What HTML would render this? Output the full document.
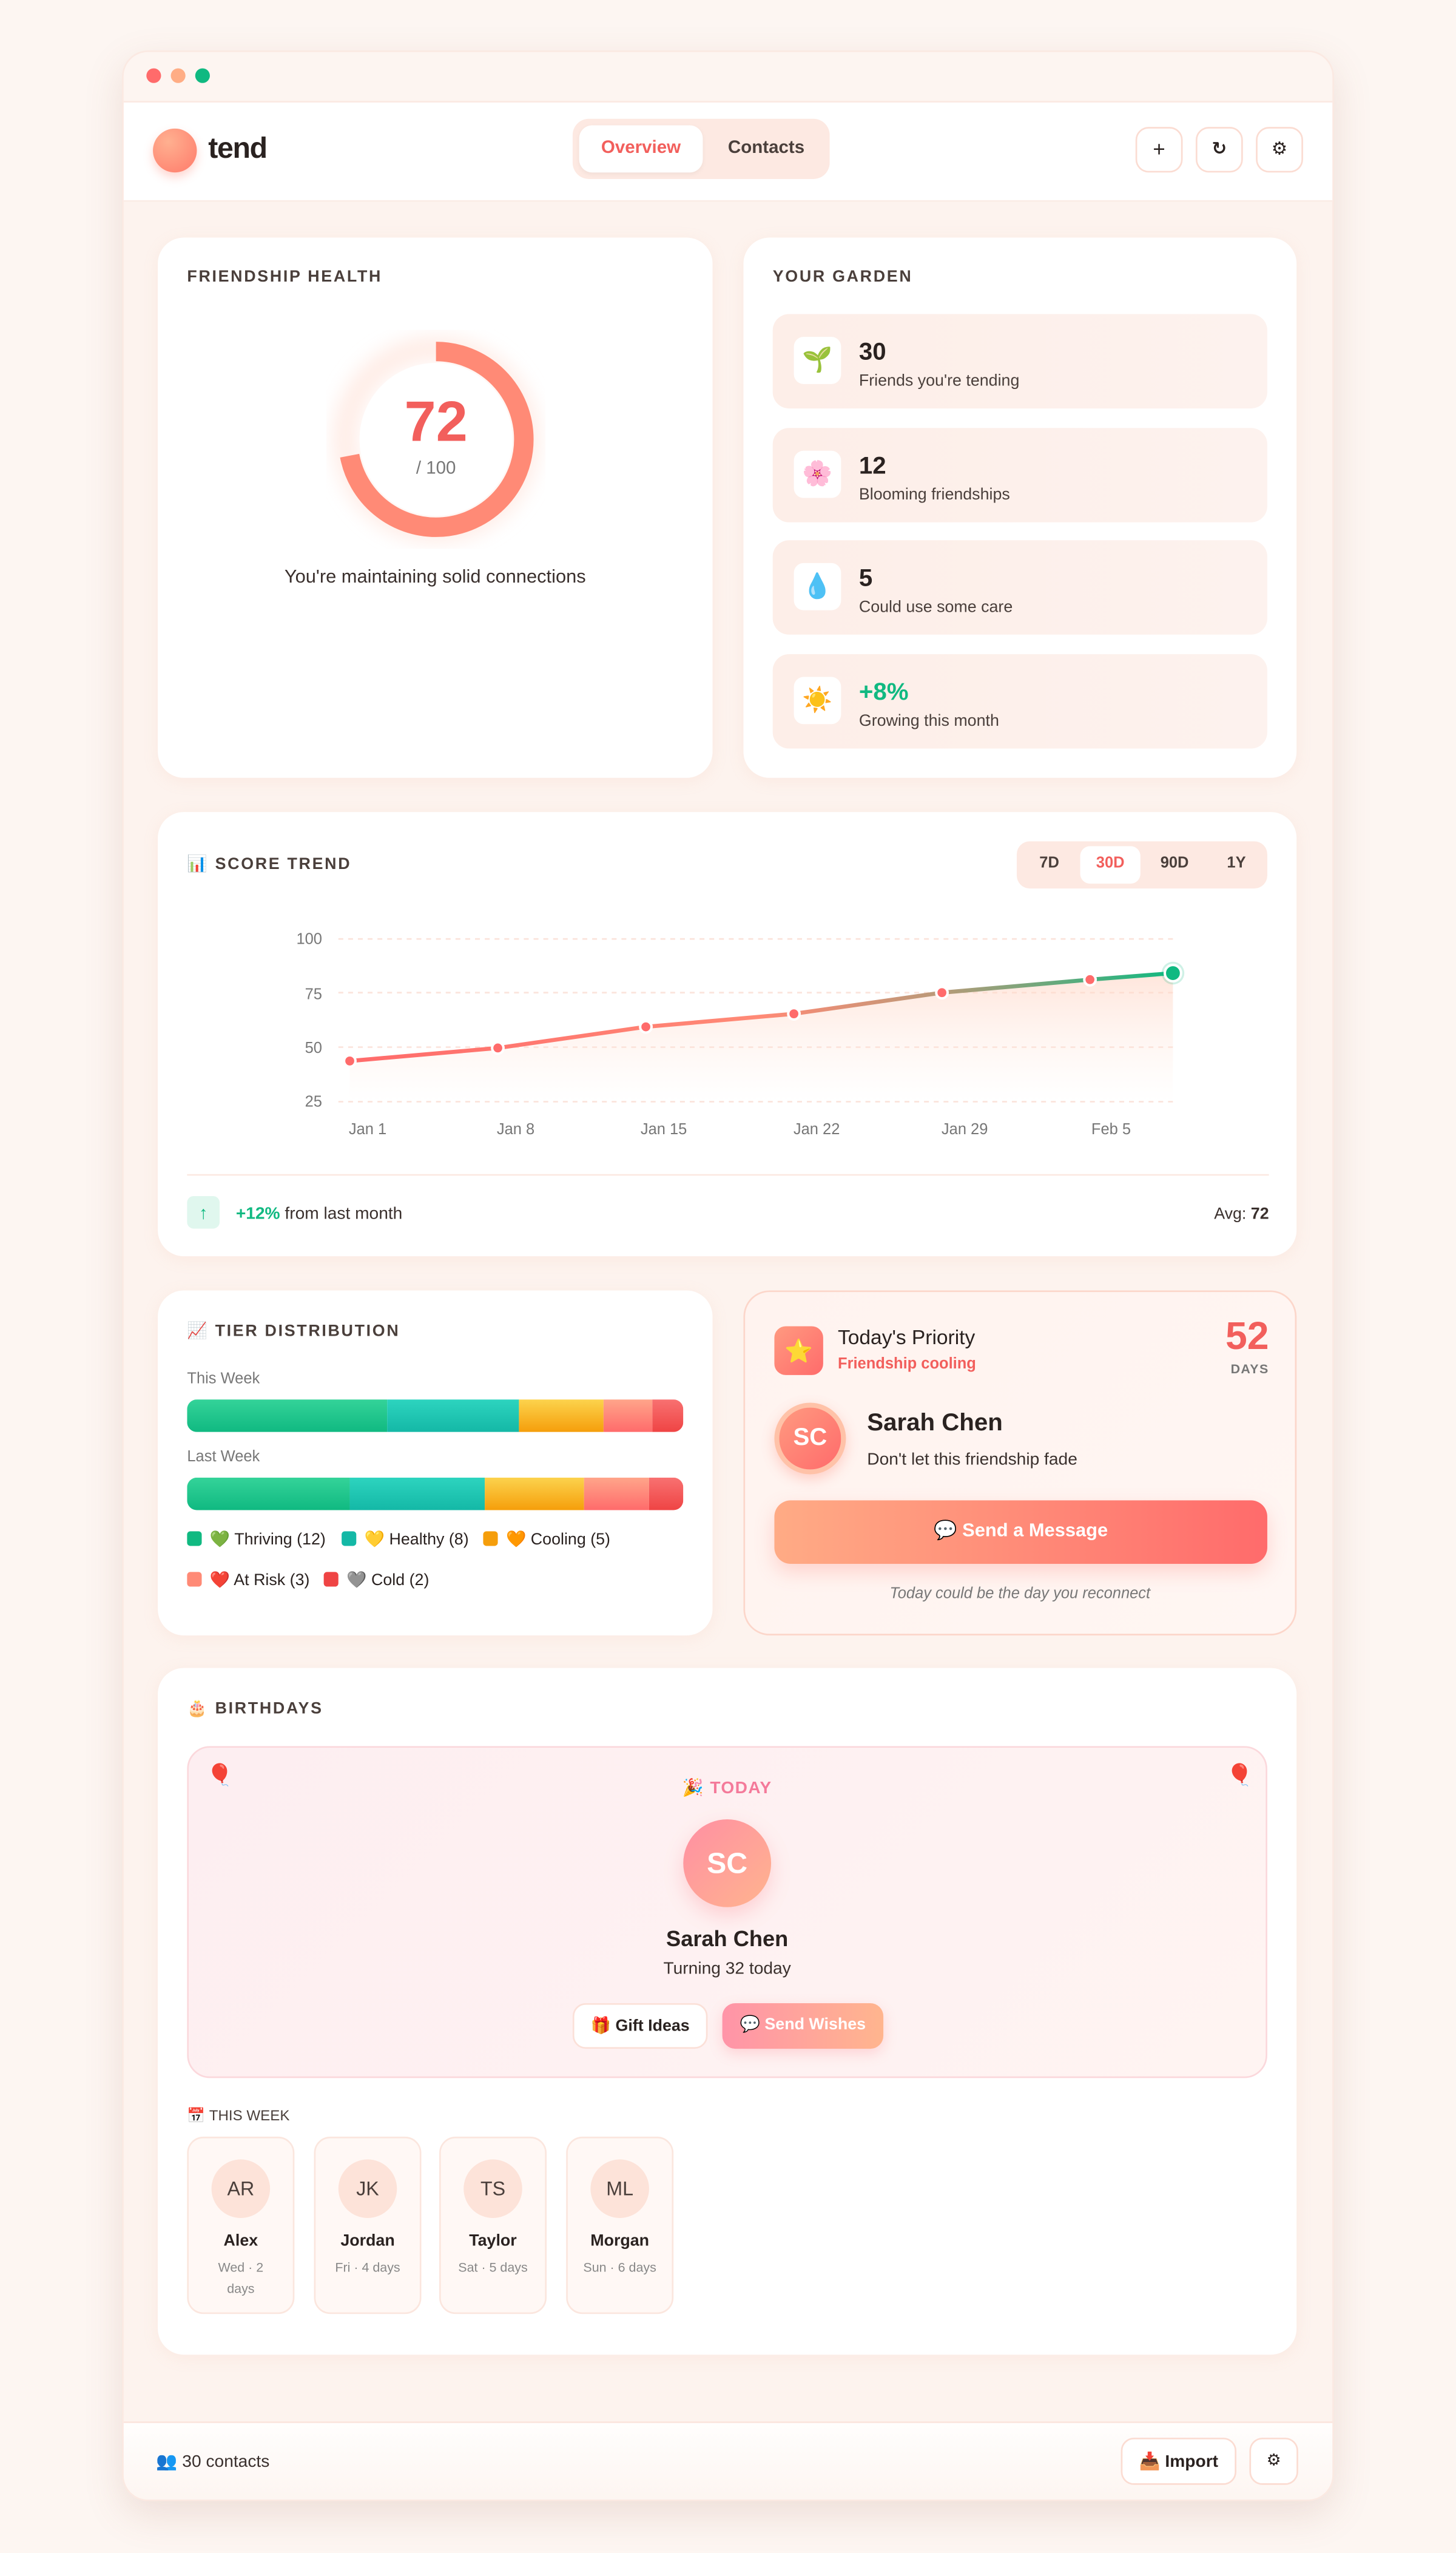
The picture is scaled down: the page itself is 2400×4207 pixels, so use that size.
<!DOCTYPE html>
<html><head><meta charset="utf-8">
<style>
*{box-sizing:border-box;margin:0;padding:0}
html,body{width:2400px;height:4206px;overflow:hidden;background:#fdf6f2}
#s{position:absolute;left:0;top:0;width:895px;height:1569px;transform:scale(2.68156);transform-origin:0 0;font-family:"Liberation Sans","DejaVu Sans",sans-serif;color:#2a2220}
.a{position:absolute}
.card{position:absolute;background:#fff;border-radius:16px;box-shadow:0 2px 10px rgba(240,160,130,.10)}
.ttl{position:absolute;font-size:10px;font-weight:bold;letter-spacing:1px;color:#4a3f3b}
.gi{position:absolute;left:475px;width:304px;height:58px;border-radius:10px;background:linear-gradient(90deg,#fdeee8,#fdf2ee)}
.gi .ic{position:absolute;left:13px;top:14px;width:29px;height:29px;background:#fff;border-radius:6px;text-align:center;line-height:29px;font-size:15px}
.gi .n{position:absolute;left:53px;top:15px;font-size:15px;font-weight:bold}
.gi .l{position:absolute;left:53px;top:36px;font-size:10px;color:#4a3f3b}
.btn{position:absolute;background:#fff;border:1px solid #fbdcd2;border-radius:8px;text-align:center;font-size:11px}
.lab{position:absolute;font-size:9.5px;color:#777}
.leg{position:absolute;font-size:10px;color:#2a2220}
.leg i{display:inline-block;width:9px;height:9px;border-radius:2px;vertical-align:-1px;margin-right:5px}
.wk{position:absolute;top:1313px;width:66px;height:109px;border:1px solid #fbe6de;border-radius:10px;background:#fff8f5;text-align:center}
.wk .av{margin:13px auto 0;width:36px;height:36px;border-radius:50%;background:#fde3d9;line-height:36px;font-size:12px;color:#4a3f3b}
.wk .nm{margin-top:9px;font-size:10px;font-weight:bold}
.wk .sb{margin-top:4px;font-size:8px;color:#888;line-height:13px}
</style></head><body><div id="s">
<div class="a" style="left:75px;top:31px;width:745px;height:1506px;border-radius:16px;background:#fdf3ee;box-shadow:0 8px 24px rgba(150,90,70,.15);overflow:hidden;border:1px solid #fbe9e2">
 <div class="a" style="left:0;top:0;width:745px;height:31px;background:#fdf5f1;border-bottom:1px solid #fbe9e2"></div>
 <div class="a" style="left:14px;top:10px;width:9px;height:9px;border-radius:50%;background:#ff6b6b"></div>
 <div class="a" style="left:29px;top:10px;width:9px;height:9px;border-radius:50%;background:#ffad85"></div>
 <div class="a" style="left:44px;top:10px;width:9px;height:9px;border-radius:50%;background:#10b981"></div>
 <div class="a" style="left:0;top:31px;width:745px;height:61px;background:#fff;border-bottom:1px solid #fbece6"></div>
 <div class="a" style="left:0;top:1456px;width:745px;height:50px;background:linear-gradient(#fffefd,#fdf5f1);border-top:1px solid #fbe6de"></div>
</div>
<div class="a" style="left:94px;top:79px;width:27px;height:27px;border-radius:50%;background:radial-gradient(circle at 35% 30%,#ffb090,#ff7a6a);box-shadow:0 3px 6px rgba(255,120,100,.3)"></div>
<div class="a" style="left:128px;top:81px;font-size:18px;font-weight:bold;letter-spacing:-.5px">tend</div>
<div class="a" style="left:352px;top:73px;width:158px;height:37px;border-radius:10px;background:#fde9e2"></div>
<div class="a" style="left:356px;top:77px;width:76px;height:29px;border-radius:8px;background:#fff;box-shadow:0 1px 3px rgba(0,0,0,.05);text-align:center;line-height:29px;font-size:11px;color:#f25f5c;font-weight:bold">Overview</div>
<div class="a" style="left:440px;top:77px;width:62px;line-height:29px;text-align:center;font-size:11px;color:#4a3f3b;font-weight:bold">Contacts</div>
<div class="btn" style="left:698px;top:78px;width:29px;height:28px;line-height:26px;font-size:13px">+</div>
<div class="btn" style="left:735px;top:78px;width:29px;height:28px;line-height:26px;font-weight:bold">↻</div>
<div class="btn" style="left:772px;top:78px;width:29px;height:28px;line-height:26px">⚙</div>

<!-- health -->
<div class="card" style="left:97px;top:146px;width:341px;height:332px"></div>
<div class="ttl" style="left:115px;top:165px">FRIENDSHIP HEALTH</div>
<svg class="a" style="left:198px;top:200px" width="140" height="140" viewBox="0 0 140 140">
 <defs><filter id="b"><feGaussianBlur stdDeviation="6"/></filter></defs>
 <circle cx="70" cy="70" r="56" fill="none" stroke="#ffe6de" stroke-width="14" filter="url(#b)" opacity=".8"/>
 <circle cx="70" cy="70" r="54" fill="none" stroke="#ff8a76" stroke-width="12" stroke-dasharray="244.3 339.3" transform="rotate(-90 70 70)"/>
 <circle cx="70" cy="70" r="47" fill="#fff"/>
</svg>
<div class="a" style="left:218px;top:240px;width:100px;text-align:center;font-size:35px;font-weight:bold;color:#f25f5c">72</div>
<div class="a" style="left:218px;top:282px;width:100px;text-align:center;font-size:11px;color:#777">/ 100</div>
<div class="a" style="left:97px;top:349px;width:341px;text-align:center;font-size:11.5px;color:#3a302d">You're maintaining solid connections</div>

<!-- garden -->
<div class="card" style="left:457px;top:146px;width:340px;height:332px"></div>
<div class="ttl" style="left:475px;top:165px">YOUR GARDEN</div>
<div class="gi" style="top:193px"><div class="ic">🌱</div><div class="n">30</div><div class="l">Friends you're tending</div></div>
<div class="gi" style="top:263px"><div class="ic">🌸</div><div class="n">12</div><div class="l">Blooming friendships</div></div>
<div class="gi" style="top:332px"><div class="ic">💧</div><div class="n">5</div><div class="l">Could use some care</div></div>
<div class="gi" style="top:402px"><div class="ic">☀️</div><div class="n" style="color:#10b981">+8%</div><div class="l">Growing this month</div></div>

<!-- trend -->
<div class="card" style="left:97px;top:499px;width:700px;height:273px"></div>
<div class="ttl" style="left:115px;top:526px">📊 SCORE TREND</div>
<div class="a" style="left:625px;top:517px;width:154px;height:29px;border-radius:8px;background:#fde9e2"></div>
<div class="a" style="left:664px;top:520px;width:37px;height:23px;border-radius:6px;background:#fff"></div>
<div class="a" style="left:625px;top:525px;width:40px;text-align:center;font-size:9.5px;font-weight:bold;color:#4a3f3b">7D</div>
<div class="a" style="left:664px;top:525px;width:37px;text-align:center;font-size:9.5px;font-weight:bold;color:#f25f5c">30D</div>
<div class="a" style="left:703px;top:525px;width:38px;text-align:center;font-size:9.5px;font-weight:bold;color:#4a3f3b">90D</div>
<div class="a" style="left:741px;top:525px;width:38px;text-align:center;font-size:9.5px;font-weight:bold;color:#4a3f3b">1Y</div>
<svg class="a" style="left:97px;top:499px" width="700" height="273" viewBox="97 499 700 273">
 <defs>
  <linearGradient id="ar" x1="0" y1="0" x2="0" y2="1"><stop offset="0" stop-color="#ffd5c4" stop-opacity=".6"/><stop offset="1" stop-color="#ffe8de" stop-opacity="0"/></linearGradient>
  <linearGradient id="ln" x1="215" y1="0" x2="721" y2="0" gradientUnits="userSpaceOnUse"><stop offset="0" stop-color="#ff6b6b"/><stop offset=".5" stop-color="#ff8a76"/><stop offset=".72" stop-color="#b89a78"/><stop offset="1" stop-color="#10b981"/></linearGradient>
 </defs>
 <g stroke="#fbe4dc" stroke-dasharray="3 3" stroke-width="1">
  <line x1="208" y1="577" x2="722" y2="577"/><line x1="208" y1="610" x2="722" y2="610"/><line x1="208" y1="643.5" x2="722" y2="643.5"/><line x1="208" y1="677" x2="722" y2="677"/>
 </g>
 <g font-size="9.5" fill="#777" text-anchor="end"><text x="198" y="580">100</text><text x="198" y="614">75</text><text x="198" y="647">50</text><text x="198" y="680">25</text></g>
 <g font-size="9.5" fill="#777" text-anchor="middle"><text x="226" y="697">Jan 1</text><text x="317" y="697">Jan 8</text><text x="408" y="697">Jan 15</text><text x="502" y="697">Jan 22</text><text x="593" y="697">Jan 29</text><text x="683" y="697">Feb 5</text></g>
 <path d="M215 652 L306 644 L397 631 L488 623 L579 610 L670 602 L721 598 L721 677 L215 677Z" fill="url(#ar)"/>
 <path d="M215 652 L306 644 L397 631 L488 623 L579 610 L670 602 L721 598" fill="none" stroke="url(#ln)" stroke-width="2.5" stroke-linejoin="round"/>
 <g fill="#ff6b6b" stroke="#fff" stroke-width="1.5"><circle cx="215" cy="652" r="3.5"/><circle cx="306" cy="644" r="3.5"/><circle cx="397" cy="631" r="3.5"/><circle cx="488" cy="623" r="3.5"/><circle cx="579" cy="610" r="3.5"/><circle cx="670" cy="602" r="3.5"/></g>
 <circle cx="721" cy="598" r="7" fill="#10b981" opacity=".2"/>
 <circle cx="721" cy="598" r="5" fill="#10b981" stroke="#fff" stroke-width="1.5"/>
 <line x1="115" y1="722" x2="780" y2="722" stroke="#fbe9e2"/>
 <rect x="115" y="735" width="20" height="20" rx="4" fill="#e0f7ee"/>
 <text x="125" y="749" font-size="11" fill="#10b981" text-anchor="middle" font-weight="bold">↑</text>
 <text x="145" y="749" font-size="10.5" fill="#3a302d"><tspan fill="#10b981" font-weight="bold">+12%</tspan> from last month</text>
 <text x="780" y="749" font-size="10" fill="#3a302d" text-anchor="end">Avg: <tspan font-weight="bold">72</tspan></text>
</svg>

<!-- tier -->
<div class="card" style="left:97px;top:793px;width:341px;height:212px"></div>
<div class="ttl" style="left:115px;top:813px">📈 TIER DISTRIBUTION</div>
<div class="lab" style="left:115px;top:842px">This Week</div>
<div class="a" style="left:115px;top:860px;width:305px;height:20px;border-radius:6px;overflow:hidden;display:flex">
 <div style="width:123px;background:linear-gradient(#34d399,#10b981)"></div><div style="width:81px;background:linear-gradient(#2dd4bf,#14b8a6)"></div><div style="width:52px;background:linear-gradient(#fcd34d,#f59e0b)"></div><div style="width:30px;background:linear-gradient(#ffa58a,#ff6b6b)"></div><div style="flex:1;background:linear-gradient(#f87171,#ef4444)"></div></div>
<div class="lab" style="left:115px;top:890px">Last Week</div>
<div class="a" style="left:115px;top:908px;width:305px;height:20px;border-radius:6px;overflow:hidden;display:flex">
 <div style="width:100px;background:linear-gradient(#34d399,#10b981)"></div><div style="width:83px;background:linear-gradient(#2dd4bf,#14b8a6)"></div><div style="width:61px;background:linear-gradient(#fcd34d,#f59e0b)"></div><div style="width:40px;background:linear-gradient(#ffa58a,#ff6b6b)"></div><div style="flex:1;background:linear-gradient(#f87171,#ef4444)"></div></div>
<div class="leg" style="left:115px;top:941px"><i style="background:#10b981"></i>💚 Thriving (12)</div>
<div class="leg" style="left:210px;top:941px"><i style="background:#14b8a6"></i>💛 Healthy (8)</div>
<div class="leg" style="left:297px;top:941px"><i style="background:#f59e0b"></i>🧡 Cooling (5)</div>
<div class="leg" style="left:115px;top:966px"><i style="background:#ff8a76"></i>❤️ At Risk (3)</div>
<div class="leg" style="left:199px;top:966px"><i style="background:#ef4444"></i>🩶 Cold (2)</div>

<!-- priority -->
<div class="a" style="left:457px;top:793px;width:340px;height:212px;border-radius:16px;background:linear-gradient(135deg,#fff3ef,#fff6f3);border:1px solid #fcd6ca"></div>
<div class="a" style="left:476px;top:815px;width:30px;height:30px;border-radius:7px;background:linear-gradient(135deg,#ff9a80,#ff6b6b);text-align:center;line-height:30px;font-size:14px">⭐</div>
<div class="a" style="left:515px;top:815px;font-size:12.5px">Today's Priority</div>
<div class="a" style="left:515px;top:833px;font-size:9.5px;font-weight:bold;color:#f25f5c">Friendship cooling</div>
<div class="a" style="left:720px;top:808px;width:60px;text-align:right;font-size:24px;font-weight:bold;color:#f25f5c">52</div>
<div class="a" style="left:720px;top:837px;width:60px;text-align:right;font-size:8px;font-weight:bold;color:#777;letter-spacing:.5px">DAYS</div>
<div class="a" style="left:476px;top:862px;width:44px;height:44px;border-radius:50%;background:linear-gradient(135deg,#ff9a80,#ff6b6b);border:3px solid #ffc2a8;box-shadow:0 3px 8px rgba(255,120,100,.3);text-align:center;line-height:38px;color:#fff;font-weight:bold;font-size:15px">SC</div>
<div class="a" style="left:533px;top:866px;font-size:15px;font-weight:bold">Sarah Chen</div>
<div class="a" style="left:533px;top:891px;font-size:10.5px;color:#3a302d">Don't let this friendship fade</div>
<div class="a" style="left:476px;top:922px;width:303px;height:39px;border-radius:10px;background:linear-gradient(90deg,#ffab85,#ff6b6b);box-shadow:0 5px 12px rgba(255,110,100,.25);text-align:center;line-height:39px;color:#fff;font-weight:bold;font-size:11.5px">💬 Send a Message</div>
<div class="a" style="left:457px;top:974px;width:340px;text-align:center;font-size:9.5px;font-style:italic;color:#777">Today could be the day you reconnect</div>

<!-- birthdays -->
<div class="card" style="left:97px;top:1025px;width:700px;height:422px"></div>
<div class="ttl" style="left:115px;top:1045px">🎂 BIRTHDAYS</div>
<div class="a" style="left:115px;top:1073px;width:664px;height:204px;border-radius:14px;background:linear-gradient(135deg,#fdeef1,#fff4f2);border:1px solid #fbd8dc"></div>
<div class="a" style="left:127px;top:1083px;font-size:13px">🎈</div>
<div class="a" style="left:754px;top:1083px;font-size:13px">🎈</div>
<div class="a" style="left:347px;top:1092px;width:200px;text-align:center;font-size:10.5px;font-weight:bold;color:#f47a9a;letter-spacing:.5px">🎉 TODAY</div>
<div class="a" style="left:420px;top:1118px;width:54px;height:54px;border-radius:50%;background:linear-gradient(135deg,#ff8fa3,#ffb48e);box-shadow:0 5px 12px rgba(255,130,140,.3);text-align:center;line-height:54px;color:#fff;font-weight:bold;font-size:18px">SC</div>
<div class="a" style="left:347px;top:1184px;width:200px;text-align:center;font-size:13.5px;font-weight:bold">Sarah Chen</div>
<div class="a" style="left:347px;top:1204px;width:200px;text-align:center;font-size:10.5px;color:#3a302d">Turning 32 today</div>
<div class="a" style="left:352px;top:1231px;width:83px;height:28px;border-radius:8px;background:#fff;border:1px solid #fbe0d8;text-align:center;line-height:27px;font-size:10px;font-weight:bold">🎁 Gift Ideas</div>
<div class="a" style="left:444px;top:1231px;width:99px;height:28px;border-radius:8px;background:linear-gradient(90deg,#ff94a8,#ffb58e);box-shadow:0 3px 8px rgba(255,140,150,.3);text-align:center;line-height:28px;font-size:10px;font-weight:bold;color:#fff">💬 Send Wishes</div>
<div class="a" style="left:115px;top:1295px;font-size:9px;color:#4a3f3b">📅 THIS WEEK</div>
<div class="wk" style="left:115px"><div class="av">AR</div><div class="nm">Alex</div><div class="sb">Wed · 2<br>days</div></div>
<div class="wk" style="left:193px"><div class="av">JK</div><div class="nm">Jordan</div><div class="sb">Fri · 4 days</div></div>
<div class="wk" style="left:270px"><div class="av">TS</div><div class="nm">Taylor</div><div class="sb">Sat · 5 days</div></div>
<div class="wk" style="left:348px"><div class="av">ML</div><div class="nm">Morgan</div><div class="sb">Sun · 6 days</div></div>

<!-- footer -->
<div class="a" style="left:96px;top:1506px;font-size:10.5px;color:#3a302d">👥 30 contacts</div>
<div class="a" style="left:689px;top:1498px;width:71px;height:29px;border-radius:8px;background:#fff;border:1px solid #fbdcd2;text-align:center;line-height:28px;font-size:10.5px;font-weight:bold">📥 Import</div>
<div class="a" style="left:768px;top:1498px;width:30px;height:29px;border-radius:8px;background:#fff;border:1px solid #fbdcd2;text-align:center;line-height:28px;font-size:10px">⚙</div>
</div></body></html>
